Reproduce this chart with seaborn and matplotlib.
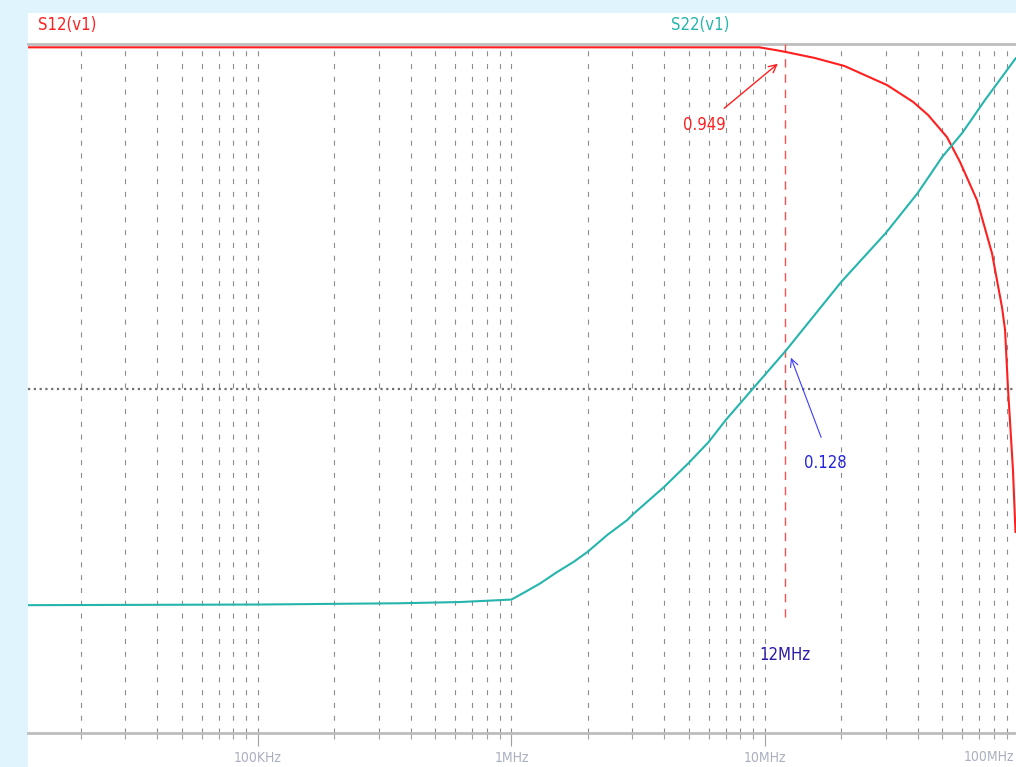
import matplotlib
matplotlib.use("Agg")
import matplotlib.pyplot as plt
from matplotlib.patches import Rectangle
from matplotlib.ticker import LogLocator, NullFormatter, FixedLocator, FixedFormatter
import seaborn as sns
import pandas as pd

# ---- data ----
freq_s12 = [12.4e3, 1e5, 1e6, 9.5e6, 10.95e6, 12e6, 15.7e6, 20.6e6, 30.3e6, 38.4e6,
            44.0e6, 52.2e6, 58.8e6, 68.6e6, 78.6e6, 86.1e6, 88.5e6, 90.9e6, 95.1e6, 97.3e6]
mag_s12 = [0.978, 0.978, 0.978, 0.978, 0.961, 0.949, 0.911, 0.863, 0.760, 0.679,
           0.622, 0.537, 0.4545, 0.352, 0.247, 0.172, 0.148, 0.100, 0.058, 0.0383]

freq_s22 = [12.4e3, 1e5, 3.6e5, 6.3e5, 1e6, 1.12e6, 1.3e6, 1.51e6, 1.76e6, 2e6, 2.39e6,
            2.86e6, 3e6, 4e6, 5e6, 6e6, 7e6, 9e6, 12e6, 20e6, 30e6, 40e6, 50e6, 60e6,
            73.8e6, 97.7e6]
mag_s22 = [0.0235, 0.0236, 0.0238, 0.0240, 0.0244, 0.02555, 0.0272, 0.0293, 0.0314, 0.0336,
           0.0376, 0.0415, 0.0430, 0.0518, 0.0608, 0.0700, 0.0810, 0.1003, 0.128, 0.204,
           0.283, 0.369, 0.470, 0.552, 0.688, 0.911]

series_names = ["S12(v1)", "S22(v1)"]
tick_values = [1e5, 1e6, 1e7, 1e8]
tick_labels = ["100KHz", "1MHz", "10MHz", "100MHz"]
cursor_freq = 12e6
cursor_label = "12MHz"
cursor_s12 = 0.949
cursor_s22 = 0.128

df = pd.concat([
    pd.DataFrame({"freq": freq_s12, "mag": mag_s12, "trace": series_names[0]}),
    pd.DataFrame({"freq": freq_s22, "mag": mag_s22, "trace": series_names[1]}),
])

# ---- style ----
sns.set_style("white")
FAM = ["DejaVu Sans"]
plt.rcParams["font.family"] = FAM
plt.rcParams["font.stretch"] = "condensed"
TXT = dict(family=FAM, fontstretch="condensed")

RED = "#ff1f1f"
TEAL = "#26b5ad"
BG = "#dff4fc"
TICKC = "#aab0c0"

W, H = 1016, 767
fig = plt.figure(figsize=(W / 100, H / 100), dpi=100, facecolor=BG)
# white plotting panel
fig.add_artist(Rectangle((28 / W, 0), 1, (H - 13) / H, transform=fig.transFigure,
                         facecolor="white", edgecolor="none", zorder=0))

ax = fig.add_axes([28 / W, (H - 733) / H, 990.5 / W, 689 / H])
ax.set_facecolor("white")

sns.lineplot(data=df, x="freq", y="mag", hue="trace", palette=[RED, TEAL],
             linewidth=1.5, legend=False, ax=ax, sort=False, zorder=4)

ax.set_xscale("log")
ax.set_yscale("log")
ax.set_xlim(12.38e3, 1e8)
ax.set_ylim(0.01, 1.0)
ax.set_xlabel("")
ax.set_ylabel("")

# spines
for s in ["left", "right"]:
    ax.spines[s].set_visible(False)
for s in ["top", "bottom"]:
    ax.spines[s].set_color("#bdbdbd")
    ax.spines[s].set_linewidth(2.0)

# x ticks and grid (last decade label is drawn separately so it stays inside the image)
ax.xaxis.set_major_locator(FixedLocator(tick_values))
ax.xaxis.set_major_formatter(FixedFormatter(tick_labels[:-1] + [""]))
ax.xaxis.set_minor_locator(LogLocator(base=10, subs=range(2, 10)))
ax.xaxis.set_minor_formatter(NullFormatter())
ax.tick_params(axis="x", which="major", direction="out", length=9, width=0.8,
               color="#a0a0a0", pad=4, labelsize=10, labelcolor=TICKC, bottom=True)
ax.tick_params(axis="x", which="minor", direction="out", length=4, width=0.8,
               color="#a0a0a0", bottom=True)
for lbl in ax.get_xticklabels():
    lbl.set_fontstretch("condensed")
fig.text(1014 / W, 1 - 757 / H, tick_labels[-1], color=TICKC, fontsize=10,
         ha="right", va="center", **TXT)
ax.tick_params(axis="y", which="both", left=False, labelleft=False)
ax.yaxis.set_minor_formatter(NullFormatter())
ax.grid(False)
ax.grid(True, axis="x", which="both", color="#8c8c8c", linewidth=0.8,
        linestyle=(0, (4.5, 7)))
ax.axhline(0.1, color="#707070", linewidth=1.6, linestyle=(0, (1, 1.6)), zorder=2)

# cursor
ax.axvline(cursor_freq, ymin=0.168, ymax=1.0, color="#ff5050", linewidth=1.0,
           linestyle=(0, (6, 5)), zorder=3)
ax.text(cursor_freq, 0.01684, cursor_label, color="#2a1aa8", fontsize=12,
        ha="center", va="center", **TXT)

# annotations
ax.annotate("", xy=(11.46e6, 0.887), xytext=(6.77e6, 0.643),
            arrowprops=dict(arrowstyle="->", color=RED, lw=1.0, mutation_scale=14))
ax.text(5.74e6, 0.582, f"{cursor_s12:.3f}", color=RED, fontsize=12,
        ha="center", va="center", **TXT)
ax.annotate("", xy=(12.55e6, 0.125), xytext=(16.8e6, 0.0709),
            arrowprops=dict(arrowstyle="->", color="#3b3bff", lw=0.8, mutation_scale=14))
ax.text(17.25e6, 0.0608, f"{cursor_s22:.3f}", color="#2424e0", fontsize=12,
        ha="center", va="center", **TXT)

# trace names above plot
fig.text(67 / W, 1 - 25 / H, series_names[0], color=RED, fontsize=12,
         ha="center", va="center", **TXT)
fig.text(700 / W, 1 - 25 / H, series_names[1], color=TEAL, fontsize=12,
         ha="center", va="center", **TXT)

fig.savefig("out.png", dpi=100, facecolor=BG)
